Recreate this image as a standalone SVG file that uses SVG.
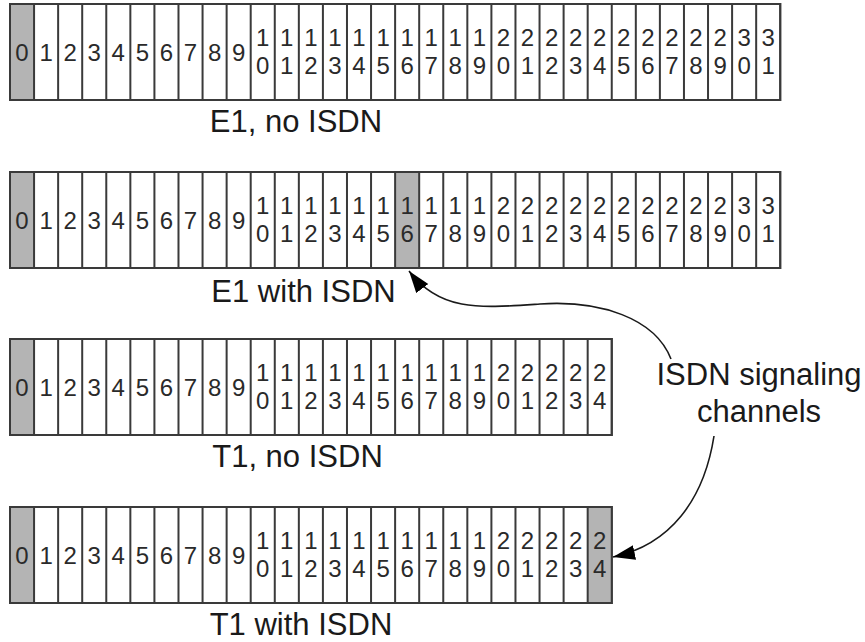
<svg xmlns="http://www.w3.org/2000/svg" xmlns:xlink="http://www.w3.org/1999/xlink" width="865" height="642" viewBox="0 0 865 642">
<style>
.frame{fill:#fff;stroke:#3a3a3a;stroke-width:2}
.shade{fill:#b4b4b4}
.grid{stroke:#3a3a3a;stroke-width:2;fill:none}
.num{font-family:"Liberation Sans",Arial,sans-serif;font-size:24px;fill:#2a2a2a;text-anchor:middle}
.lbl{font-family:"Liberation Sans",Arial,sans-serif;font-size:31px;fill:#1a1a1a;text-anchor:middle}
.conn{fill:none;stroke:#1a1a1a;stroke-width:1.6}
</style>
<defs>
<marker id="ah" markerUnits="userSpaceOnUse" markerWidth="24" markerHeight="16" refX="22" refY="7.5" orient="auto">
<path d="M0,0 L22,7.5 L0,15 z" fill="#000"/>
</marker>
<g id="e1grid" class="grid">
<rect x="10" y="0" width="770.24" height="96"/>
<path d="M34.07 0V96M58.14 0V96M82.21 0V96M106.28 0V96M130.35 0V96M154.42 0V96M178.49 0V96M202.56 0V96M226.63 0V96M250.7 0V96M274.77 0V96M298.84 0V96M322.91 0V96M346.98 0V96M371.05 0V96M395.12 0V96M419.19 0V96M443.26 0V96M467.33 0V96M491.4 0V96M515.47 0V96M539.54 0V96M563.61 0V96M587.68 0V96M611.75 0V96M635.82 0V96M659.89 0V96M683.96 0V96M708.03 0V96M732.1 0V96M756.17 0V96"/>
</g>
<g id="t1grid" class="grid">
<rect x="10" y="0" width="601.75" height="96"/>
<path d="M34.07 0V96M58.14 0V96M82.21 0V96M106.28 0V96M130.35 0V96M154.42 0V96M178.49 0V96M202.56 0V96M226.63 0V96M250.7 0V96M274.77 0V96M298.84 0V96M322.91 0V96M346.98 0V96M371.05 0V96M395.12 0V96M419.19 0V96M443.26 0V96M467.33 0V96M491.4 0V96M515.47 0V96M539.54 0V96M563.61 0V96M587.68 0V96"/>
</g>
<g id="t1nums" class="num">
<text x="22" y="57">0</text><text x="46.1" y="57">1</text><text x="70.2" y="57">2</text><text x="94.2" y="57">3</text><text x="118.3" y="57">4</text><text x="142.4" y="57">5</text><text x="166.4" y="57">6</text><text x="190.5" y="57">7</text><text x="214.6" y="57">8</text><text x="238.7" y="57">9</text>
<text x="262.7" y="42">1</text><text x="262.7" y="70">0</text>
<text x="286.8" y="42">1</text><text x="286.8" y="70">1</text>
<text x="310.9" y="42">1</text><text x="310.9" y="70">2</text>
<text x="334.9" y="42">1</text><text x="334.9" y="70">3</text>
<text x="359" y="42">1</text><text x="359" y="70">4</text>
<text x="383.1" y="42">1</text><text x="383.1" y="70">5</text>
<text x="407.2" y="42">1</text><text x="407.2" y="70">6</text>
<text x="431.2" y="42">1</text><text x="431.2" y="70">7</text>
<text x="455.3" y="42">1</text><text x="455.3" y="70">8</text>
<text x="479.4" y="42">1</text><text x="479.4" y="70">9</text>
<text x="503.4" y="42">2</text><text x="503.4" y="70">0</text>
<text x="527.5" y="42">2</text><text x="527.5" y="70">1</text>
<text x="551.6" y="42">2</text><text x="551.6" y="70">2</text>
<text x="575.6" y="42">2</text><text x="575.6" y="70">3</text>
<text x="599.7" y="42">2</text><text x="599.7" y="70">4</text>
</g>
<g id="e1nums" class="num">
<use xlink:href="#t1nums"/>
<text x="623.8" y="42">2</text><text x="623.8" y="70">5</text>
<text x="647.9" y="42">2</text><text x="647.9" y="70">6</text>
<text x="671.9" y="42">2</text><text x="671.9" y="70">7</text>
<text x="696" y="42">2</text><text x="696" y="70">8</text>
<text x="720.1" y="42">2</text><text x="720.1" y="70">9</text>
<text x="744.1" y="42">3</text><text x="744.1" y="70">0</text>
<text x="768.2" y="42">3</text><text x="768.2" y="70">1</text>
</g>
</defs>
<rect width="865" height="642" fill="#fff"/>

<g id="e1-no-isdn" transform="translate(0,4)">
<rect class="frame" x="10" y="0" width="770.24" height="96"/>
<rect class="shade" x="10" y="0" width="24.07" height="96"/>
<use xlink:href="#e1grid"/>
<use xlink:href="#e1nums"/>
<text class="lbl" x="296" y="128">E1, no ISDN</text>
</g>

<g id="e1-with-isdn" transform="translate(0,172)">
<rect class="frame" x="10" y="0" width="770.24" height="96"/>
<rect class="shade" x="10" y="0" width="24.07" height="96"/>
<rect class="shade" x="395.12" y="0" width="24.07" height="96"/>
<use xlink:href="#e1grid"/>
<use xlink:href="#e1nums"/>
<text class="lbl" x="303.5" y="130">E1 with ISDN</text>
</g>

<g id="t1-no-isdn" transform="translate(0,339)">
<rect class="frame" x="10" y="0" width="601.75" height="96"/>
<rect class="shade" x="10" y="0" width="24.07" height="96"/>
<use xlink:href="#t1grid"/>
<use xlink:href="#t1nums"/>
<text class="lbl" x="297.5" y="128">T1, no ISDN</text>
</g>

<g id="t1-with-isdn" transform="translate(0,507)">
<rect class="frame" x="10" y="0" width="601.75" height="96"/>
<rect class="shade" x="10" y="0" width="24.07" height="96"/>
<rect class="shade" x="587.68" y="0" width="24.07" height="96"/>
<use xlink:href="#t1grid"/>
<use xlink:href="#t1nums"/>
<text class="lbl" x="301" y="127.5">T1 with ISDN</text>
</g>

<g id="isdn-signaling-label">
<text class="lbl" x="759" y="385">ISDN signaling</text>
<text class="lbl" x="759" y="422">channels</text>
</g>

<g id="connectors">
<path class="conn" d="M671 359 C655 318 600 300 540 304 C480 308 440 312 409 271" marker-end="url(#ah)"/>
<path class="conn" d="M714 436 C704 500 670 545 613 557" marker-end="url(#ah)"/>
</g>
</svg>
